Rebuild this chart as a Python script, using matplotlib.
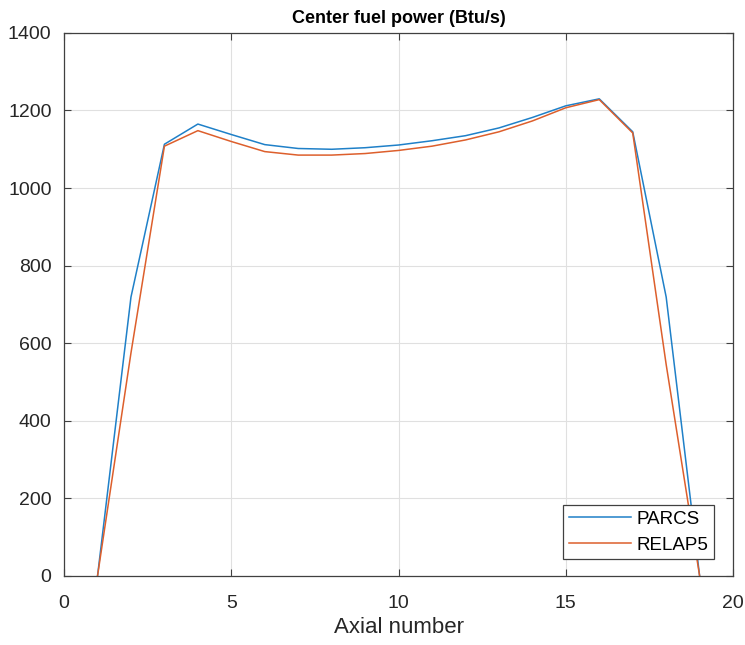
import matplotlib.pyplot as plt

plt.rcParams['font.family'] = ['Liberation Sans', 'DejaVu Sans']

axial = [1, 2, 3, 4, 5, 6, 7, 8, 9, 10, 11, 12, 13, 14, 15, 16, 17, 18, 19]
parcs = [0, 719, 1113, 1165, 1138, 1112, 1102, 1100, 1104, 1111, 1122,
         1135, 1155, 1182, 1212, 1230, 1145, 719, 0]
relap5 = [0, 575, 1108, 1148, 1120, 1094, 1085, 1085, 1089, 1097, 1108,
          1124, 1145, 1173, 1207, 1228, 1142, 545, 0]

fig = plt.figure(figsize=(7.45, 6.45), dpi=100)
ax = fig.add_axes([0.086, 0.107, 0.898, 0.842])

ax.plot(axial, parcs, color='#1f80c8', linewidth=1.1, label='PARCS')
ax.plot(axial, relap5, color='#dd5f2c', linewidth=1.1, label='RELAP5')

ax.set_xlim(0, 20)
ax.set_ylim(0, 1400)
ax.set_xticks([0, 5, 10, 15, 20])
ax.set_yticks(range(0, 1401, 200))
ax.grid(True, color='#e0e0e0', linewidth=0.8)
ax.tick_params(direction='in', top=True, right=True, labelsize=14,
               color='#404040', labelcolor='#262626', length=5)
ax.tick_params(axis='x', pad=14)
ax.tick_params(axis='y', pad=9)
for s in ax.spines.values():
    s.set_color('#404040')
    s.set_linewidth(0.9)

ax.set_title('Center fuel power (Btu/s)', fontsize=13, fontweight='bold', pad=7)
ax.set_xlabel('Axial number', fontsize=16, labelpad=3, color='#262626')

leg = ax.legend(loc='lower right', bbox_to_anchor=(0.9715, 0.031),
                fontsize=13.5, fancybox=False, edgecolor='#404040',
                framealpha=1, borderaxespad=0, handlelength=3.3,
                handletextpad=0.3, borderpad=0.3, labelspacing=0.45)
leg.get_frame().set_linewidth(0.9)

fig.savefig('out.png')
